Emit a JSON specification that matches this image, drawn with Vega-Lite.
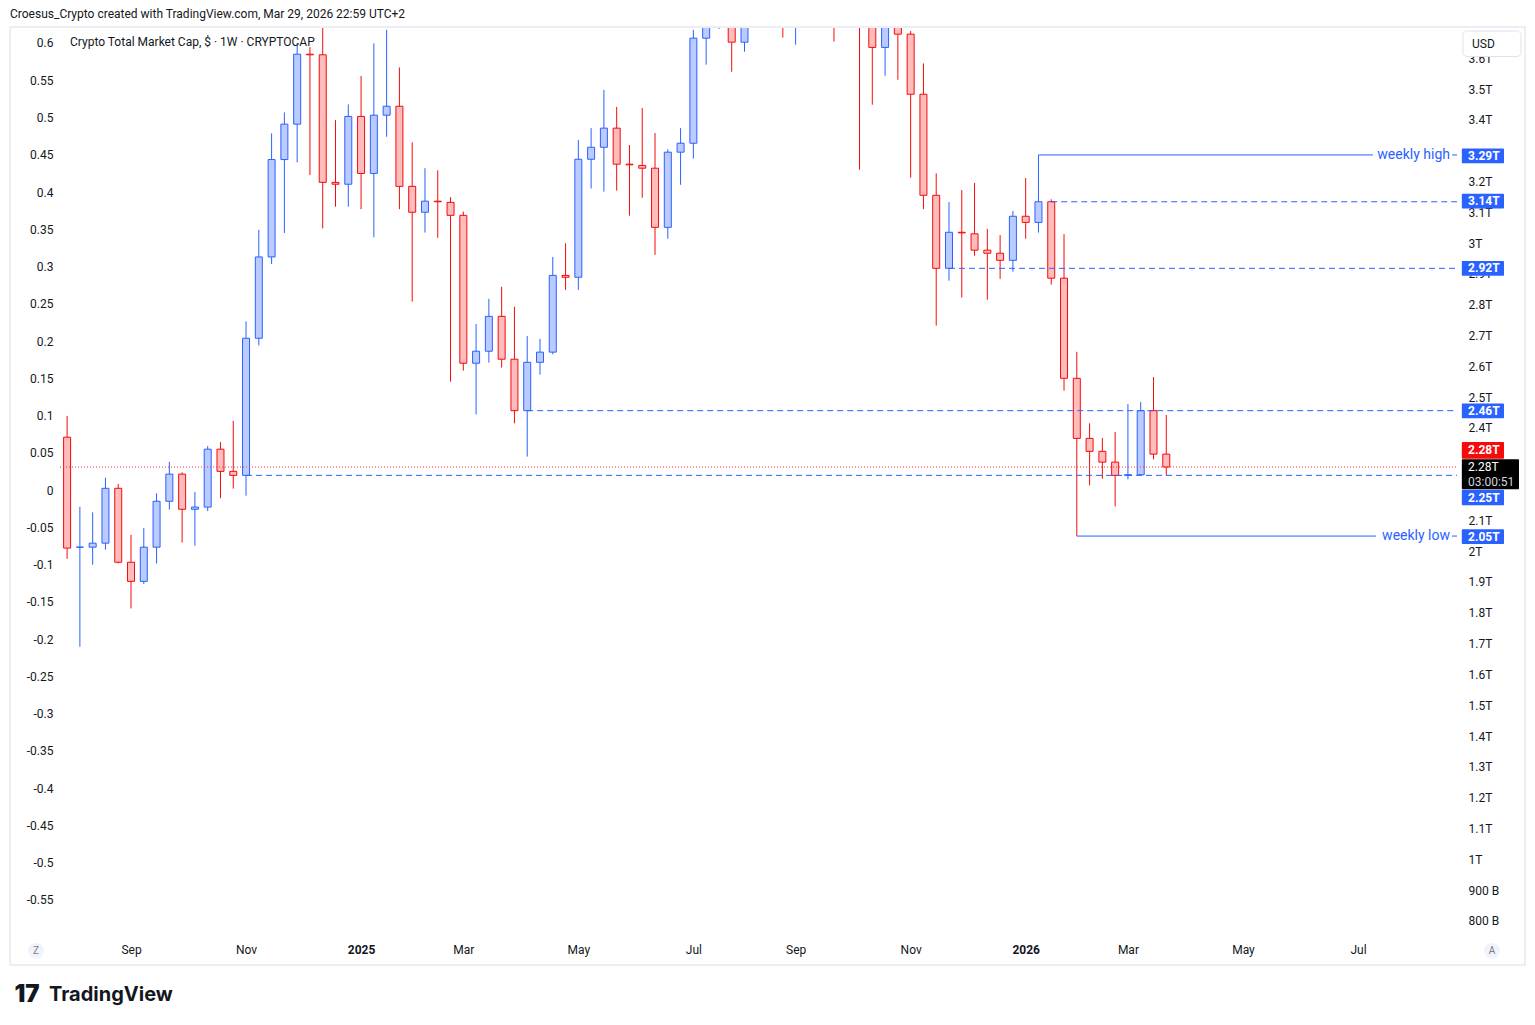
{
  "$schema": "https://vega.github.io/schema/vega-lite/v6.json",
  "width": 1397,
  "height": 912,
  "autosize": {"type": "none"},
  "padding": {"left": 60, "top": 28, "right": 78, "bottom": 85},
  "background": "white",
  "config": {
    "view": {"stroke": null},
    "font": "Roboto",
    "scale": {"continuousPadding": 0},
    "axis": {"grid": false, "domain": false, "ticks": false, "labelColor": "#131722", "labelFontSize": 12, "labelFont": "Roboto", "title": null}
  },
  "datasets": {
    "candles": [
      {"d":"2024-07-29","o":2.370,"h":2.439,"l":1.975,"c":2.010},
      {"d":"2024-08-05","o":2.013,"h":2.144,"l":1.690,"c":2.013},
      {"d":"2024-08-12","o":2.013,"h":2.126,"l":1.956,"c":2.026},
      {"d":"2024-08-19","o":2.026,"h":2.238,"l":2.005,"c":2.204},
      {"d":"2024-08-26","o":2.204,"h":2.218,"l":1.960,"c":1.964},
      {"d":"2024-09-02","o":1.964,"h":2.053,"l":1.814,"c":1.902},
      {"d":"2024-09-09","o":1.902,"h":2.075,"l":1.893,"c":2.013},
      {"d":"2024-09-16","o":2.013,"h":2.188,"l":1.960,"c":2.162},
      {"d":"2024-09-23","o":2.162,"h":2.290,"l":2.135,"c":2.250},
      {"d":"2024-09-30","o":2.250,"h":2.256,"l":2.028,"c":2.136},
      {"d":"2024-10-07","o":2.136,"h":2.192,"l":2.018,"c":2.143},
      {"d":"2024-10-14","o":2.143,"h":2.341,"l":2.130,"c":2.331},
      {"d":"2024-10-21","o":2.331,"h":2.354,"l":2.172,"c":2.259},
      {"d":"2024-10-28","o":2.259,"h":2.423,"l":2.203,"c":2.246},
      {"d":"2024-11-04","o":2.246,"h":2.746,"l":2.180,"c":2.691},
      {"d":"2024-11-11","o":2.691,"h":3.043,"l":2.668,"c":2.955},
      {"d":"2024-11-18","o":2.955,"h":3.356,"l":2.932,"c":3.271},
      {"d":"2024-11-25","o":3.271,"h":3.424,"l":3.033,"c":3.386},
      {"d":"2024-12-02","o":3.386,"h":3.649,"l":3.262,"c":3.613},
      {"d":"2024-12-09","o":3.613,"h":3.636,"l":3.221,"c":3.611},
      {"d":"2024-12-16","o":3.611,"h":3.730,"l":3.048,"c":3.197},
      {"d":"2024-12-23","o":3.197,"h":3.399,"l":3.118,"c":3.191},
      {"d":"2024-12-30","o":3.191,"h":3.450,"l":3.118,"c":3.411},
      {"d":"2025-01-06","o":3.411,"h":3.542,"l":3.110,"c":3.226},
      {"d":"2025-01-13","o":3.226,"h":3.648,"l":3.019,"c":3.415},
      {"d":"2025-01-20","o":3.415,"h":3.692,"l":3.345,"c":3.444},
      {"d":"2025-01-27","o":3.444,"h":3.570,"l":3.110,"c":3.184},
      {"d":"2025-02-03","o":3.184,"h":3.327,"l":2.810,"c":3.100},
      {"d":"2025-02-10","o":3.100,"h":3.243,"l":3.034,"c":3.136},
      {"d":"2025-02-17","o":3.136,"h":3.236,"l":3.017,"c":3.134},
      {"d":"2025-02-24","o":3.132,"h":3.149,"l":2.550,"c":3.090},
      {"d":"2025-03-03","o":3.090,"h":3.102,"l":2.586,"c":2.610},
      {"d":"2025-03-10","o":2.610,"h":2.737,"l":2.444,"c":2.649},
      {"d":"2025-03-17","o":2.649,"h":2.819,"l":2.612,"c":2.762},
      {"d":"2025-03-24","o":2.762,"h":2.858,"l":2.596,"c":2.623},
      {"d":"2025-03-31","o":2.623,"h":2.793,"l":2.415,"c":2.456},
      {"d":"2025-04-07","o":2.456,"h":2.698,"l":2.307,"c":2.613},
      {"d":"2025-04-14","o":2.613,"h":2.689,"l":2.573,"c":2.646},
      {"d":"2025-04-21","o":2.646,"h":2.955,"l":2.639,"c":2.895},
      {"d":"2025-04-28","o":2.895,"h":2.999,"l":2.848,"c":2.889},
      {"d":"2025-05-05","o":2.889,"h":3.335,"l":2.848,"c":3.272},
      {"d":"2025-05-12","o":3.272,"h":3.373,"l":3.177,"c":3.311},
      {"d":"2025-05-19","o":3.311,"h":3.497,"l":3.167,"c":3.373},
      {"d":"2025-05-26","o":3.373,"h":3.442,"l":3.170,"c":3.256},
      {"d":"2025-06-02","o":3.256,"h":3.318,"l":3.089,"c":3.254},
      {"d":"2025-06-09","o":3.252,"h":3.438,"l":3.147,"c":3.243},
      {"d":"2025-06-16","o":3.243,"h":3.357,"l":2.962,"c":3.051},
      {"d":"2025-06-23","o":3.051,"h":3.304,"l":3.014,"c":3.295},
      {"d":"2025-06-30","o":3.295,"h":3.373,"l":3.189,"c":3.324},
      {"d":"2025-07-07","o":3.324,"h":3.692,"l":3.274,"c":3.665},
      {"d":"2025-07-14","o":3.665,"h":3.900,"l":3.579,"c":3.820},
      {"d":"2025-07-21","o":3.820,"h":3.980,"l":3.695,"c":3.870},
      {"d":"2025-07-28","o":3.870,"h":3.920,"l":3.556,"c":3.652},
      {"d":"2025-08-04","o":3.652,"h":3.950,"l":3.621,"c":3.880},
      {"d":"2025-08-11","o":3.880,"h":4.180,"l":3.800,"c":3.980},
      {"d":"2025-08-18","o":3.980,"h":4.050,"l":3.750,"c":3.850},
      {"d":"2025-08-25","o":3.850,"h":3.920,"l":3.667,"c":3.780},
      {"d":"2025-09-01","o":3.780,"h":3.900,"l":3.644,"c":3.850},
      {"d":"2025-09-08","o":3.850,"h":4.020,"l":3.800,"c":4.000},
      {"d":"2025-09-15","o":4.000,"h":4.080,"l":3.850,"c":3.930},
      {"d":"2025-09-22","o":3.930,"h":3.980,"l":3.654,"c":3.800},
      {"d":"2025-09-29","o":3.800,"h":4.280,"l":3.780,"c":4.150},
      {"d":"2025-10-06","o":4.150,"h":4.300,"l":3.238,"c":3.780},
      {"d":"2025-10-13","o":3.780,"h":3.850,"l":3.449,"c":3.635},
      {"d":"2025-10-20","o":3.635,"h":3.800,"l":3.543,"c":3.750},
      {"d":"2025-10-27","o":3.750,"h":3.850,"l":3.530,"c":3.678},
      {"d":"2025-11-03","o":3.678,"h":3.688,"l":3.212,"c":3.483},
      {"d":"2025-11-10","o":3.483,"h":3.583,"l":3.110,"c":3.155},
      {"d":"2025-11-17","o":3.155,"h":3.226,"l":2.732,"c":2.918},
      {"d":"2025-11-24","o":2.918,"h":3.133,"l":2.878,"c":3.035},
      {"d":"2025-12-01","o":3.035,"h":3.172,"l":2.823,"c":3.033},
      {"d":"2025-12-08","o":3.030,"h":3.195,"l":2.959,"c":2.977},
      {"d":"2025-12-15","o":2.977,"h":3.046,"l":2.816,"c":2.967},
      {"d":"2025-12-22","o":2.967,"h":3.026,"l":2.884,"c":2.944},
      {"d":"2025-12-29","o":2.944,"h":3.104,"l":2.907,"c":3.087},
      {"d":"2026-01-05","o":3.087,"h":3.211,"l":3.014,"c":3.067},
      {"d":"2026-01-12","o":3.067,"h":3.286,"l":3.034,"c":3.134},
      {"d":"2026-01-19","o":3.134,"h":3.142,"l":2.865,"c":2.886},
      {"d":"2026-01-26","o":2.886,"h":3.029,"l":2.521,"c":2.561},
      {"d":"2026-02-02","o":2.561,"h":2.647,"l":2.049,"c":2.366},
      {"d":"2026-02-09","o":2.366,"h":2.415,"l":2.214,"c":2.324},
      {"d":"2026-02-16","o":2.324,"h":2.367,"l":2.235,"c":2.289},
      {"d":"2026-02-23","o":2.289,"h":2.387,"l":2.145,"c":2.246},
      {"d":"2026-03-02","o":2.246,"h":2.478,"l":2.233,"c":2.248},
      {"d":"2026-03-09","o":2.248,"h":2.484,"l":2.246,"c":2.456},
      {"d":"2026-03-16","o":2.456,"h":2.565,"l":2.298,"c":2.315},
      {"d":"2026-03-23","o":2.315,"h":2.442,"l":2.246,"c":2.273}
    ],
    "solid": [
      {"d":"2026-01-12","d2":"2026-07-14T05:20:00Z","v":3.286},
      {"d":"2026-08-26T11:45:00Z","d2":"2026-08-29T05:30:00Z","v":3.286},
      {"d":"2026-02-02","d2":"2026-07-15T20:40:00Z","v":2.049},
      {"d":"2026-08-26T11:45:00Z","d2":"2026-08-29T05:30:00Z","v":2.049}
    ],
    "dashed": [
      {"d":"2026-01-19","d2":"2026-08-29T05:30:00Z","v":3.134},
      {"d":"2025-11-24","d2":"2026-08-29T05:30:00Z","v":2.918},
      {"d":"2025-04-07","d2":"2026-08-29T05:30:00Z","v":2.456},
      {"d":"2024-11-04","d2":"2026-08-29T05:30:00Z","v":2.246}
    ],
    "dotted": [
      {"d":"2024-07-25T02:40:00Z","d2":"2026-08-29T05:30:00Z","v":2.273}
    ],
    "notes": [
      {"d":"2026-08-25T09:20:00Z","v":3.286,"t":"weekly high"},
      {"d":"2026-08-25T09:20:00Z","v":2.049,"t":"weekly low"}
    ],
    "tags": [
      {"d":"2026-08-31T21:00:00Z","d2":"2026-09-23T23:20:00Z","v1":3.259,"v2":3.307,"m":3.283,"t":"3.29T","kind":"level"},
      {"d":"2026-08-31T21:00:00Z","d2":"2026-09-23T23:20:00Z","v1":3.112,"v2":3.160,"m":3.136,"t":"3.14T","kind":"level"},
      {"d":"2026-08-31T21:00:00Z","d2":"2026-09-23T23:20:00Z","v1":2.894,"v2":2.942,"m":2.918,"t":"2.92T","kind":"level"},
      {"d":"2026-08-31T21:00:00Z","d2":"2026-09-23T23:20:00Z","v1":2.431,"v2":2.479,"m":2.455,"t":"2.46T","kind":"level"},
      {"d":"2026-08-31T21:00:00Z","d2":"2026-09-23T23:20:00Z","v1":2.300,"v2":2.354,"m":2.327,"t":"2.28T","kind":"last"},
      {"d":"2026-08-31T21:00:00Z","d2":"2026-09-23T23:20:00Z","v1":2.149,"v2":2.199,"m":2.174,"t":"2.25T","kind":"level"},
      {"d":"2026-08-31T21:00:00Z","d2":"2026-09-23T23:20:00Z","v1":2.023,"v2":2.071,"m":2.047,"t":"2.05T","kind":"level"}
    ],
    "timer": [
      {"d":"2026-08-31T21:00:00Z","d2":"2026-10-02T04:30:00Z","v1":2.201,"v2":2.298}
    ],
    "timertext": [
      {"d":"2026-09-04T06:00:00Z","v":2.274,"t":"2.28T","kind":"price"},
      {"d":"2026-09-04T06:00:00Z","v":2.224,"t":"03:00:51","kind":"clock"}
    ],
    "usd": [
      {"d":"2026-09-01T12:30:00Z","d2":"2026-10-03T06:40:00Z","v1":3.6055,"v2":3.6882,"td":"2026-09-06T10:30:00Z","tv":3.646,"t":"USD"}
    ],
    "legendtext": [
      {"d":"2024-07-30T14:05:00Z","v":3.6525,"t":"Crypto Total Market Cap, $ · 1W · CRYPTOCAP"}
    ],
    "header": [
      {"d":"2024-06-27T17:30:00Z","v":3.7434,"t":"Croesus_Crypto created with TradingView.com, Mar 29, 2026 22:59 UTC+2"}
    ],
    "buttons": [
      {"d":"2024-07-11T23:15:00Z","v":0.7026,"t":"Z"},
      {"d":"2026-09-17T09:40:00Z","v":0.7026,"t":"A"}
    ],
    "brand": [
      {"d":"2024-07-19T02:10:00Z","v":0.5598,"t":"TradingView"}
    ],
    "logo": [
      {"d":"2024-07-07T01:00:00Z","v":0.5598,"t":"17"}
    ],
    "frame": [
      {"d":"2024-06-27T17:30:00Z","d2":"2026-10-05T11:20:00Z","v1":0.6572,"v2":3.7012}
    ],
    "leftaxis": [
      {"v": -0.6},
      {"v": 0.6}
    ],
    "rightaxis": [
      {"v": 1.0},
      {"v": 3.0}
    ]
  },
  "layer": [
    {
      "data": {"name": "rightaxis"},
      "mark": {"type": "point", "opacity": 0},
      "encoding": {
        "y": {
          "field": "v", "type": "quantitative",
          "scale": {"domain": [0.738, 3.698], "nice": false, "zero": false},
          "axis": {
            "orient": "right",
            "values": [0.8, 0.9, 1, 1.1, 1.2, 1.3, 1.4, 1.5, 1.6, 1.7, 1.8, 1.9, 2, 2.1, 2.4, 2.5, 2.6, 2.7, 2.8, 2.9, 3, 3.1, 3.2, 3.4, 3.5, 3.6],
            "labelExpr": "datum.value < 0.95 ? format(datum.value * 1000, '.0f') + ' B' : format(datum.value, '.1~f') + 'T'",
            "labelPadding": 11,
            "labelOverlap": false,
            "labelFlush": false,
            "zindex": 0
          }
        }
      }
    },
    {
      "data": {"name": "leftaxis"},
      "mark": {"type": "point", "opacity": 0},
      "encoding": {
        "y": {
          "field": "v", "type": "quantitative",
          "scale": {"domain": [-0.6037, 0.6201], "nice": false, "zero": false},
          "axis": {
            "orient": "left",
            "values": [-0.55, -0.5, -0.45, -0.4, -0.35, -0.3, -0.25, -0.2, -0.15, -0.1, -0.05, 0, 0.05, 0.1, 0.15, 0.2, 0.25, 0.3, 0.35, 0.4, 0.45, 0.5, 0.55, 0.6],
            "labelExpr": "(datum.value < 0 ? '-' : '') + format(abs(datum.value), '~g')",
            "labelPadding": 7,
            "labelOverlap": false,
            "labelFlush": false
          }
        }
      }
    },
    {
      "encoding": {
        "x": {
          "field": "d", "type": "temporal",
          "scale": {"type": "utc", "domain": ["2024-07-25T02:40:00Z", "2026-08-29T05:30:00Z"], "nice": false, "padding": 0},
          "axis": {
            "orient": "bottom",
            "values": ["2024-09-02", "2024-11-04", "2025-01-06", "2025-03-03", "2025-05-05", "2025-07-07", "2025-09-01", "2025-11-03", "2026-01-05", "2026-03-02", "2026-05-04", "2026-07-06"],
            "labelExpr": "utcmonth(datum.value) == 0 ? utcFormat(datum.value, '%Y') : utcFormat(datum.value, '%b')",
            "labelFontWeight": {"condition": {"test": "utcmonth(datum.value) == 0", "value": "bold"}, "value": "normal"},
            "labelPadding": 4,
            "labelOverlap": false,
            "labelFlush": false
          }
        }
      },
      "layer": [
        {
          "data": {"name": "frame"},
          "mark": {"type": "rect", "fillOpacity": 0, "stroke": "#e6e9ef", "strokeWidth": 1.5, "clip": false},
          "encoding": {
            "x2": {"field": "d2"},
            "y": {"field": "v1", "type": "quantitative", "scale": {"domain": [0.738, 3.698], "nice": false, "zero": false, "padding": 0}, "axis": null},
            "y2": {"field": "v2"}
          }
        },
        {
          "data": {"name": "candles"},
          "mark": {"type": "rule", "strokeWidth": 1, "clip": true},
          "encoding": {
            "y": {"field": "l", "type": "quantitative", "scale": {"domain": [0.738, 3.698], "nice": false, "zero": false, "padding": 0}, "axis": null},
            "y2": {"field": "h"},
            "stroke": {"condition": {"test": "datum.c >= datum.o", "value": "#2962ff"}, "value": "#f70a0a"}
          }
        },
        {
          "data": {"name": "candles"},
          "mark": {"type": "bar", "size": 7, "strokeWidth": 1, "clip": true},
          "encoding": {
            "y": {"field": "o", "type": "quantitative", "scale": {"domain": [0.738, 3.698], "nice": false, "zero": false, "padding": 0}, "axis": null},
            "y2": {"field": "c"},
            "fill": {"condition": {"test": "datum.c >= datum.o", "value": "#bccbff"}, "value": "#ffbcbc"},
            "stroke": {"condition": {"test": "datum.c >= datum.o", "value": "#2962ff"}, "value": "#f70a0a"}
          }
        },
        {
          "data": {"name": "dotted"},
          "mark": {"type": "rule", "stroke": "#f23645", "strokeWidth": 1, "strokeDash": [1, 2], "clip": true},
          "encoding": {
            "x2": {"field": "d2"},
            "y": {"field": "v", "type": "quantitative", "scale": {"domain": [0.738, 3.698], "nice": false, "zero": false, "padding": 0}, "axis": null}
          }
        },
        {
          "data": {"name": "dashed"},
          "mark": {"type": "rule", "stroke": "#2962ff", "strokeWidth": 1, "strokeDash": [6, 4], "clip": true},
          "encoding": {
            "x2": {"field": "d2"},
            "y": {"field": "v", "type": "quantitative", "scale": {"domain": [0.738, 3.698], "nice": false, "zero": false, "padding": 0}, "axis": null}
          }
        },
        {
          "data": {"name": "solid"},
          "mark": {"type": "rule", "stroke": "#2962ff", "strokeWidth": 1, "clip": true},
          "encoding": {
            "x2": {"field": "d2"},
            "y": {"field": "v", "type": "quantitative", "scale": {"domain": [0.738, 3.698], "nice": false, "zero": false, "padding": 0}, "axis": null}
          }
        },
        {
          "data": {"name": "notes"},
          "mark": {"type": "text", "align": "right", "baseline": "middle", "fontSize": 14, "color": "#2962ff", "font": "Roboto", "clip": false},
          "encoding": {
            "y": {"field": "v", "type": "quantitative", "scale": {"domain": [0.738, 3.698], "nice": false, "zero": false, "padding": 0}, "axis": null},
            "text": {"field": "t"}
          }
        },
        {
          "data": {"name": "legendtext"},
          "mark": {"type": "text", "align": "left", "baseline": "middle", "fontSize": 12, "color": "#131722", "font": "Roboto", "clip": false},
          "encoding": {
            "y": {"field": "v", "type": "quantitative", "scale": {"domain": [0.738, 3.698], "nice": false, "zero": false, "padding": 0}, "axis": null},
            "text": {"field": "t"}
          }
        },
        {
          "data": {"name": "header"},
          "mark": {"type": "text", "align": "left", "baseline": "middle", "fontSize": 12, "color": "#131722", "font": "Roboto", "clip": false},
          "encoding": {
            "y": {"field": "v", "type": "quantitative", "scale": {"domain": [0.738, 3.698], "nice": false, "zero": false, "padding": 0}, "axis": null},
            "text": {"field": "t"}
          }
        },
        {
          "data": {"name": "usd"},
          "mark": {"type": "rect", "fill": "#ffffff", "stroke": "#e0e3eb", "strokeWidth": 1, "cornerRadius": 4, "clip": false},
          "encoding": {
            "x2": {"field": "d2"},
            "y": {"field": "v1", "type": "quantitative", "scale": {"domain": [0.738, 3.698], "nice": false, "zero": false, "padding": 0}, "axis": null},
            "y2": {"field": "v2"}
          }
        },
        {
          "data": {"name": "usd"},
          "mark": {"type": "text", "align": "left", "baseline": "middle", "fontSize": 12, "color": "#131722", "font": "Roboto", "clip": false},
          "encoding": {
            "x": {"field": "td", "type": "temporal"},
            "y": {"field": "tv", "type": "quantitative", "scale": {"domain": [0.738, 3.698], "nice": false, "zero": false, "padding": 0}, "axis": null},
            "text": {"field": "t"}
          }
        },
        {
          "data": {"name": "tags"},
          "mark": {"type": "rect", "cornerRadius": 1, "clip": false},
          "encoding": {
            "x2": {"field": "d2"},
            "y": {"field": "v1", "type": "quantitative", "scale": {"domain": [0.738, 3.698], "nice": false, "zero": false, "padding": 0}, "axis": null},
            "y2": {"field": "v2"},
            "fill": {"condition": {"test": "datum.kind == 'last'", "value": "#f70a0a"}, "value": "#2962ff"}
          }
        },
        {
          "data": {"name": "timer"},
          "mark": {"type": "rect", "fill": "#000000", "cornerRadius": 1, "clip": false},
          "encoding": {
            "x2": {"field": "d2"},
            "y": {"field": "v1", "type": "quantitative", "scale": {"domain": [0.738, 3.698], "nice": false, "zero": false, "padding": 0}, "axis": null},
            "y2": {"field": "v2"}
          }
        },
        {
          "data": {"name": "tags"},
          "mark": {"type": "text", "align": "center", "baseline": "middle", "fontSize": 12, "fontWeight": "bold", "color": "#ffffff", "font": "Roboto", "clip": false},
          "encoding": {
            "xOffset": {"value": 22},
            "y": {"field": "m", "type": "quantitative", "scale": {"domain": [0.738, 3.698], "nice": false, "zero": false, "padding": 0}, "axis": null},
            "text": {"field": "t"}
          }
        },
        {
          "data": {"name": "timertext"},
          "mark": {"type": "text", "align": "left", "baseline": "middle", "fontSize": 12, "font": "Roboto", "clip": false},
          "encoding": {
            "y": {"field": "v", "type": "quantitative", "scale": {"domain": [0.738, 3.698], "nice": false, "zero": false, "padding": 0}, "axis": null},
            "text": {"field": "t"},
            "fill": {"condition": {"test": "datum.kind == 'price'", "value": "#ffffff"}, "value": "#d1d4dc"},
            "fontWeight": {"condition": {"test": "datum.kind == 'price'", "value": "bold"}, "value": "normal"}
          }
        },
        {
          "data": {"name": "buttons"},
          "mark": {"type": "point", "filled": true, "size": 250, "color": "#f0f3fa", "opacity": 1, "clip": false},
          "encoding": {
            "y": {"field": "v", "type": "quantitative", "scale": {"domain": [0.738, 3.698], "nice": false, "zero": false, "padding": 0}, "axis": null}
          }
        },
        {
          "data": {"name": "buttons"},
          "mark": {"type": "text", "align": "center", "baseline": "middle", "fontSize": 10, "color": "#787b86", "font": "Roboto", "clip": false},
          "encoding": {
            "y": {"field": "v", "type": "quantitative", "scale": {"domain": [0.738, 3.698], "nice": false, "zero": false, "padding": 0}, "axis": null},
            "text": {"field": "t"}
          }
        },
        {
          "data": {"name": "brand"},
          "mark": {"type": "text", "align": "left", "baseline": "middle", "fontSize": 20, "fontWeight": "bold", "color": "#131722", "font": "Inter", "clip": false},
          "encoding": {
            "y": {"field": "v", "type": "quantitative", "scale": {"domain": [0.738, 3.698], "nice": false, "zero": false, "padding": 0}, "axis": null},
            "text": {"field": "t"}
          }
        },
        {
          "data": {"name": "logo"},
          "mark": {"type": "text", "align": "center", "baseline": "middle", "fontSize": 24, "fontWeight": 900, "color": "#131722", "font": "Inter", "clip": false},
          "encoding": {
            "y": {"field": "v", "type": "quantitative", "scale": {"domain": [0.738, 3.698], "nice": false, "zero": false, "padding": 0}, "axis": null},
            "text": {"field": "t"}
          }
        }
      ]
    }
  ],
  "resolve": {"scale": {"y": "independent"}}
}
